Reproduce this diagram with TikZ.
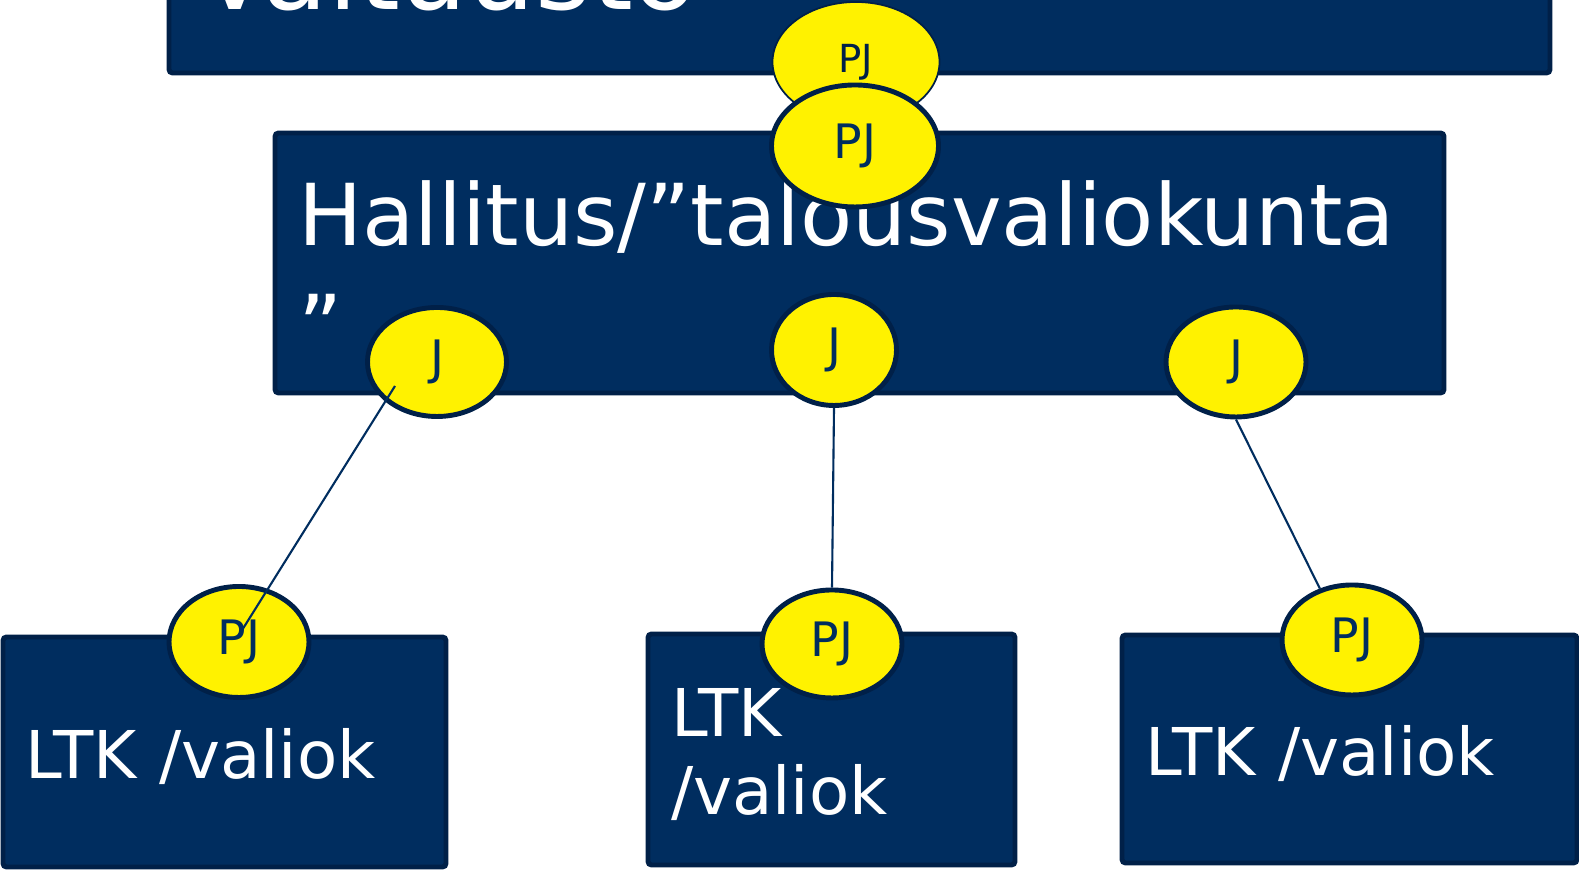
\documentclass[tikz,border=0pt]{standalone}
\usepackage{fontspec}
\setmainfont{DejaVu Sans}
\usetikzlibrary{shapes.geometric}
\definecolor{navy}{RGB}{0,45,95}
\definecolor{navyline}{RGB}{0,32,72}
\tikzset{%
	organ/.style={draw=navyline, line width=1.4pt, fill=navy, text=white, rectangle,%
		align=left, inner xsep=0.23cm, inner ysep=0mm, rounded corners=1pt,%
		execute at begin node={\rule{0pt}{0.89em}}},
	chair/.style={draw=navyline, line width=1.4pt, fill=yellow, text=navy, ellipse,%
		inner sep=0mm, font=\fontsize{13.5}{16}\selectfont},
	link/.style={navy, line width=0.6pt}
}
\begin{document}
\begin{tikzpicture}
	\useasboundingbox (0,0) rectangle (15.79,8.70);
	\node [organ, inner xsep=0.29cm, minimum width=13.81cm, minimum height=2.20cm, text width=13.23cm,%
		font=\fontsize{30.4}{36}\selectfont] (council) at (8.595,9.07) {Valtuusto};
	\node [chair, line width=0.5pt, text=navyline, minimum width=1.67cm, minimum height=1.20cm,%
		font=\fontsize{11}{13}\selectfont] (cpj) at (8.56,8.08) {PJ};

	\node [organ, minimum width=11.69cm, minimum height=2.60cm, text width=11.23cm,%
		font=\fontsize{24.3}{31.4}\selectfont] (board) at (8.595,6.07) {Hallitus/”talousvaliokunta\\”};
	\node [chair, minimum width=1.67cm, minimum height=1.22cm] (bpj) at (8.55,7.24) {PJ};
	\node [chair, minimum width=1.39cm, minimum height=1.09cm] (j1) at (4.37,5.08) {J};
	\node [chair, minimum width=1.25cm, minimum height=1.11cm] (j2) at (8.34,5.20) {J};
	\node [chair, minimum width=1.40cm, minimum height=1.10cm] (j3) at (12.36,5.08) {J};

	%committees
	\node [organ, minimum width=4.43cm, minimum height=2.30cm, text width=3.97cm,%
		font=\fontsize{18.75}{22.2}\selectfont] (ltk1) at (2.245,1.18) {LTK /valiok};
	\node [organ, minimum width=3.67cm, minimum height=2.31cm, text width=3.21cm,%
		font=\fontsize{18.75}{22.2}\selectfont] (ltk2) at (8.315,1.205) {LTK\\/valiok};
	\node [organ, minimum width=4.55cm, minimum height=2.28cm, text width=4.09cm,%
		font=\fontsize{18.75}{22.2}\selectfont] (ltk3) at (13.495,1.21) {LTK /valiok};
	\node [chair, minimum width=1.40cm, minimum height=1.11cm] (p1) at (2.39,2.28) {PJ};
	\node [chair, minimum width=1.40cm, minimum height=1.08cm] (p2) at (8.32,2.26) {PJ};
	\node [chair, minimum width=1.40cm, minimum height=1.10cm] (p3) at (13.52,2.30) {PJ};

	\draw [link] ([shift={(-0.42,-0.24)}]j1.center) to ([yshift=0.07cm]p1.center);
	\draw [link] (j2.south) to (p2.north);
	\draw [link] (j3.south) to (p3.122);
\end{tikzpicture}
\end{document}
